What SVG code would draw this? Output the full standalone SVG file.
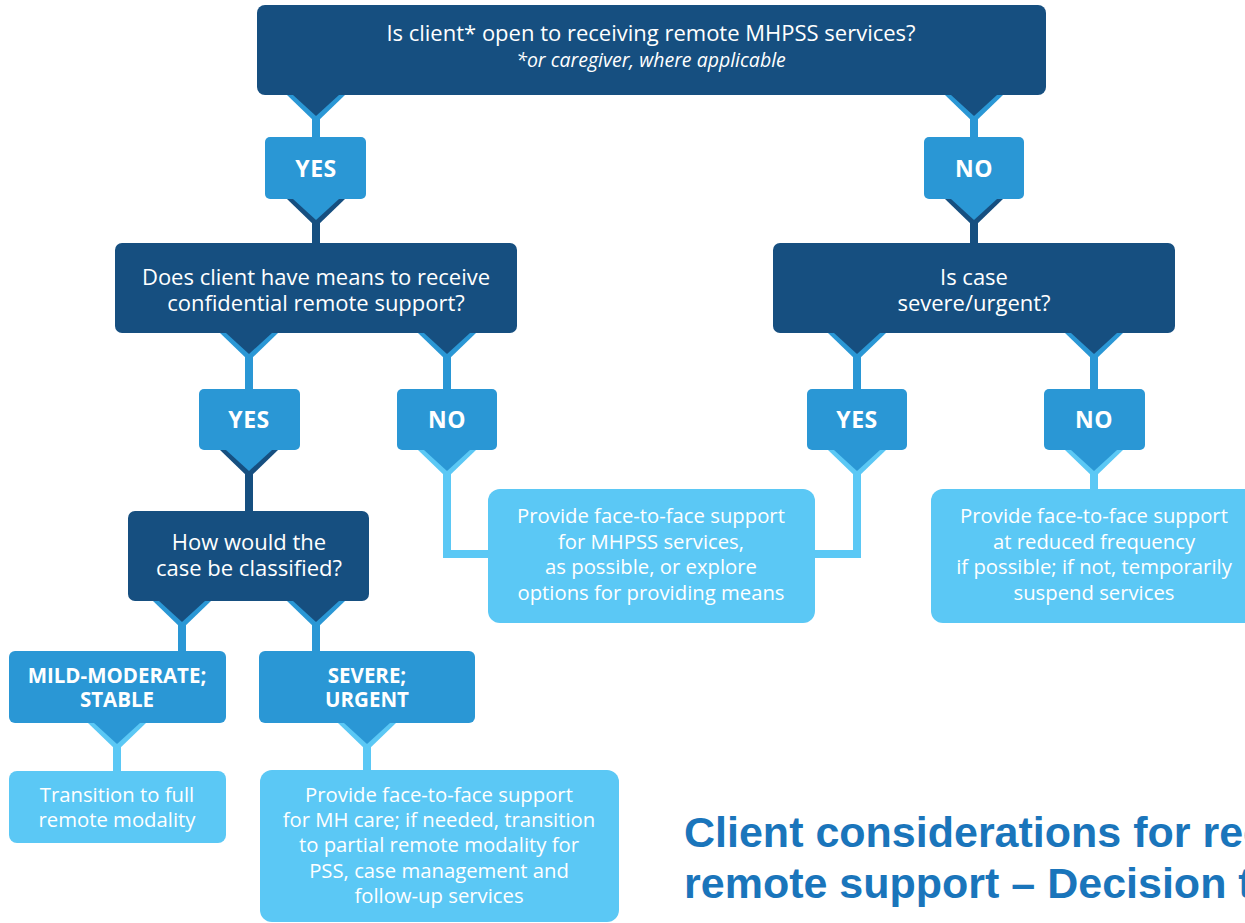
<svg xmlns="http://www.w3.org/2000/svg" width="1245" height="923" viewBox="0 0 1245 923">
<style>
.dark{fill:#164f80}
.med{fill:#2a97d5}
.light{fill:#5bc8f5}
.ld{stroke:#164f80;stroke-width:8;fill:none}
.lm{stroke:#2a97d5;stroke-width:8;fill:none}
.ll{stroke:#5bc8f5;stroke-width:8;fill:none;stroke-linejoin:miter}
.t{font-family:"Open Sans",Lato,sans-serif;font-size:20.3px;fill:#ffffff;text-anchor:middle}
.td{font-family:"Open Sans",Lato,sans-serif;font-size:22px;fill:#ffffff;text-anchor:middle}
.ti{font-family:"Open Sans",Lato,sans-serif;font-size:19.5px;font-style:italic;fill:#ffffff;text-anchor:middle}
.tb{font-family:"Open Sans",Lato,sans-serif;font-size:23px;font-weight:bold;fill:#ffffff;text-anchor:middle;letter-spacing:0.5px}
.tb2{font-family:"Open Sans",Lato,sans-serif;font-size:20.5px;font-weight:bold;fill:#ffffff;text-anchor:middle}
.title{font-family:"Liberation Sans",Arial,sans-serif;font-size:43px;font-weight:bold;fill:#1a75bb}
</style>
<defs>
<polygon id="po" points="-29,0 29,0 0,28"/>
<polygon id="pi" points="-23,0 23,0 0,21"/>
</defs>
<rect width="1245" height="923" fill="#ffffff"/>
<g id="connectors">
<line class="lm" x1="316" y1="110" x2="316" y2="138"/>
<line class="lm" x1="974" y1="110" x2="974" y2="138"/>
<line class="ld" x1="316" y1="214" x2="316" y2="244"/>
<line class="ld" x1="974" y1="214" x2="974" y2="244"/>
<line class="lm" x1="249" y1="348" x2="249" y2="390"/>
<line class="lm" x1="447" y1="348" x2="447" y2="390"/>
<line class="lm" x1="857" y1="348" x2="857" y2="390"/>
<line class="lm" x1="1094" y1="348" x2="1094" y2="390"/>
<line class="ld" x1="249" y1="465" x2="249" y2="512"/>
<polyline class="ll" points="447,465 447,554 489,554"/>
<polyline class="ll" points="857,465 857,554 814,554"/>
<line class="ll" x1="1094" y1="465" x2="1094" y2="490"/>
<line class="lm" x1="182" y1="616" x2="182" y2="652"/>
<line class="lm" x1="316" y1="616" x2="316" y2="652"/>
<line class="ll" x1="117" y1="738" x2="117" y2="772"/>
<line class="ll" x1="367" y1="738" x2="367" y2="771"/>
<use href="#po" x="316" y="95" class="med"/>
<use href="#po" x="974" y="95" class="med"/>
<use href="#po" x="316" y="199" class="dark"/>
<use href="#po" x="974" y="199" class="dark"/>
<use href="#po" x="249" y="333" class="med"/>
<use href="#po" x="447" y="333" class="med"/>
<use href="#po" x="857" y="333" class="med"/>
<use href="#po" x="1094" y="333" class="med"/>
<use href="#po" x="249" y="450" class="dark"/>
<use href="#po" x="447" y="450" class="light"/>
<use href="#po" x="857" y="450" class="light"/>
<use href="#po" x="1094" y="450" class="light"/>
<use href="#po" x="182" y="601" class="med"/>
<use href="#po" x="316" y="601" class="med"/>
<use href="#po" x="117" y="723" class="light"/>
<use href="#po" x="367" y="723" class="light"/>
</g>
<g id="q1">
<rect class="dark" x="257" y="5" width="789" height="90" rx="8"/>
<use href="#pi" x="316" y="95" class="dark"/>
<use href="#pi" x="974" y="95" class="dark"/>
<text class="td" x="651" y="41">Is client* open to receiving remote MHPSS services?</text>
<text class="ti" x="651" y="67">*or caregiver, where applicable</text>
</g>
<g id="yes1">
<rect class="med" x="265" y="137" width="101" height="62" rx="5"/>
<use href="#pi" x="316" y="199" class="med"/>
<text class="tb" x="316" y="177">YES</text>
</g>
<g id="no1">
<rect class="med" x="924" y="137" width="100" height="62" rx="5"/>
<use href="#pi" x="974" y="199" class="med"/>
<text class="tb" x="974" y="177">NO</text>
</g>
<g id="q2">
<rect class="dark" x="115" y="243" width="402" height="90" rx="7"/>
<use href="#pi" x="249" y="333" class="dark"/>
<use href="#pi" x="447" y="333" class="dark"/>
<text class="td" x="316" y="285">Does client have means to receive</text>
<text class="td" x="316" y="311">confidential remote support?</text>
</g>
<g id="q3">
<rect class="dark" x="773" y="243" width="402" height="90" rx="7"/>
<use href="#pi" x="857" y="333" class="dark"/>
<use href="#pi" x="1094" y="333" class="dark"/>
<text class="td" x="974" y="285">Is case</text>
<text class="td" x="974" y="311">severe/urgent?</text>
</g>
<g id="yes2">
<rect class="med" x="199" y="389" width="101" height="61" rx="5"/>
<use href="#pi" x="249" y="450" class="med"/>
<text class="tb" x="249" y="428">YES</text>
</g>
<g id="no2">
<rect class="med" x="397" y="389" width="100" height="61" rx="5"/>
<use href="#pi" x="447" y="450" class="med"/>
<text class="tb" x="447" y="428">NO</text>
</g>
<g id="yes3">
<rect class="med" x="807" y="389" width="100" height="61" rx="5"/>
<use href="#pi" x="857" y="450" class="med"/>
<text class="tb" x="857" y="428">YES</text>
</g>
<g id="no3">
<rect class="med" x="1044" y="389" width="101" height="61" rx="5"/>
<use href="#pi" x="1094" y="450" class="med"/>
<text class="tb" x="1094" y="428">NO</text>
</g>
<g id="q4">
<rect class="dark" x="128" y="511" width="241" height="90" rx="7"/>
<use href="#pi" x="182" y="601" class="dark"/>
<use href="#pi" x="316" y="601" class="dark"/>
<text class="td" x="249" y="550">How would the</text>
<text class="td" x="249" y="576">case be classified?</text>
</g>
<g id="faceMid">
<rect class="light" x="488" y="489" width="327" height="134" rx="12"/>
<text class="t" x="651" y="523">Provide face-to-face support</text>
<text class="t" x="651" y="549">for MHPSS services,</text>
<text class="t" x="651" y="574">as possible, or explore</text>
<text class="t" x="651" y="600">options for providing means</text>
</g>
<g id="faceRight">
<rect class="light" x="931" y="489" width="330" height="134" rx="12"/>
<text class="t" x="1094" y="523">Provide face-to-face support</text>
<text class="t" x="1094" y="549">at reduced frequency</text>
<text class="t" x="1094" y="574">if possible; if not, temporarily</text>
<text class="t" x="1094" y="600">suspend services</text>
</g>
<g id="mild">
<rect class="med" x="9" y="651" width="217" height="72" rx="6"/>
<use href="#pi" x="117" y="723" class="med"/>
<text class="tb2" x="117" y="683">MILD-MODERATE;</text>
<text class="tb2" x="117" y="707">STABLE</text>
</g>
<g id="severe">
<rect class="med" x="259" y="651" width="216" height="72" rx="6"/>
<use href="#pi" x="367" y="723" class="med"/>
<text class="tb2" x="367" y="683">SEVERE;</text>
<text class="tb2" x="367" y="707">URGENT</text>
</g>
<g id="remote">
<rect class="light" x="9" y="771" width="217" height="72" rx="8"/>
<text class="t" x="117" y="802">Transition to full</text>
<text class="t" x="117" y="827">remote modality</text>
</g>
<g id="mhcare">
<rect class="light" x="260" y="770" width="359" height="152" rx="12"/>
<text class="t" x="439" y="802">Provide face-to-face support</text>
<text class="t" x="439" y="827">for MH care; if needed, transition</text>
<text class="t" x="439" y="852">to partial remote modality for</text>
<text class="t" x="439" y="878">PSS, case management and</text>
<text class="t" x="439" y="903">follow-up services</text>
</g>
<g id="title">
<text class="title" x="684" y="847">Client considerations for receiving</text>
<text class="title" x="684" y="898">remote support – Decision tree</text>
</g>
</svg>
